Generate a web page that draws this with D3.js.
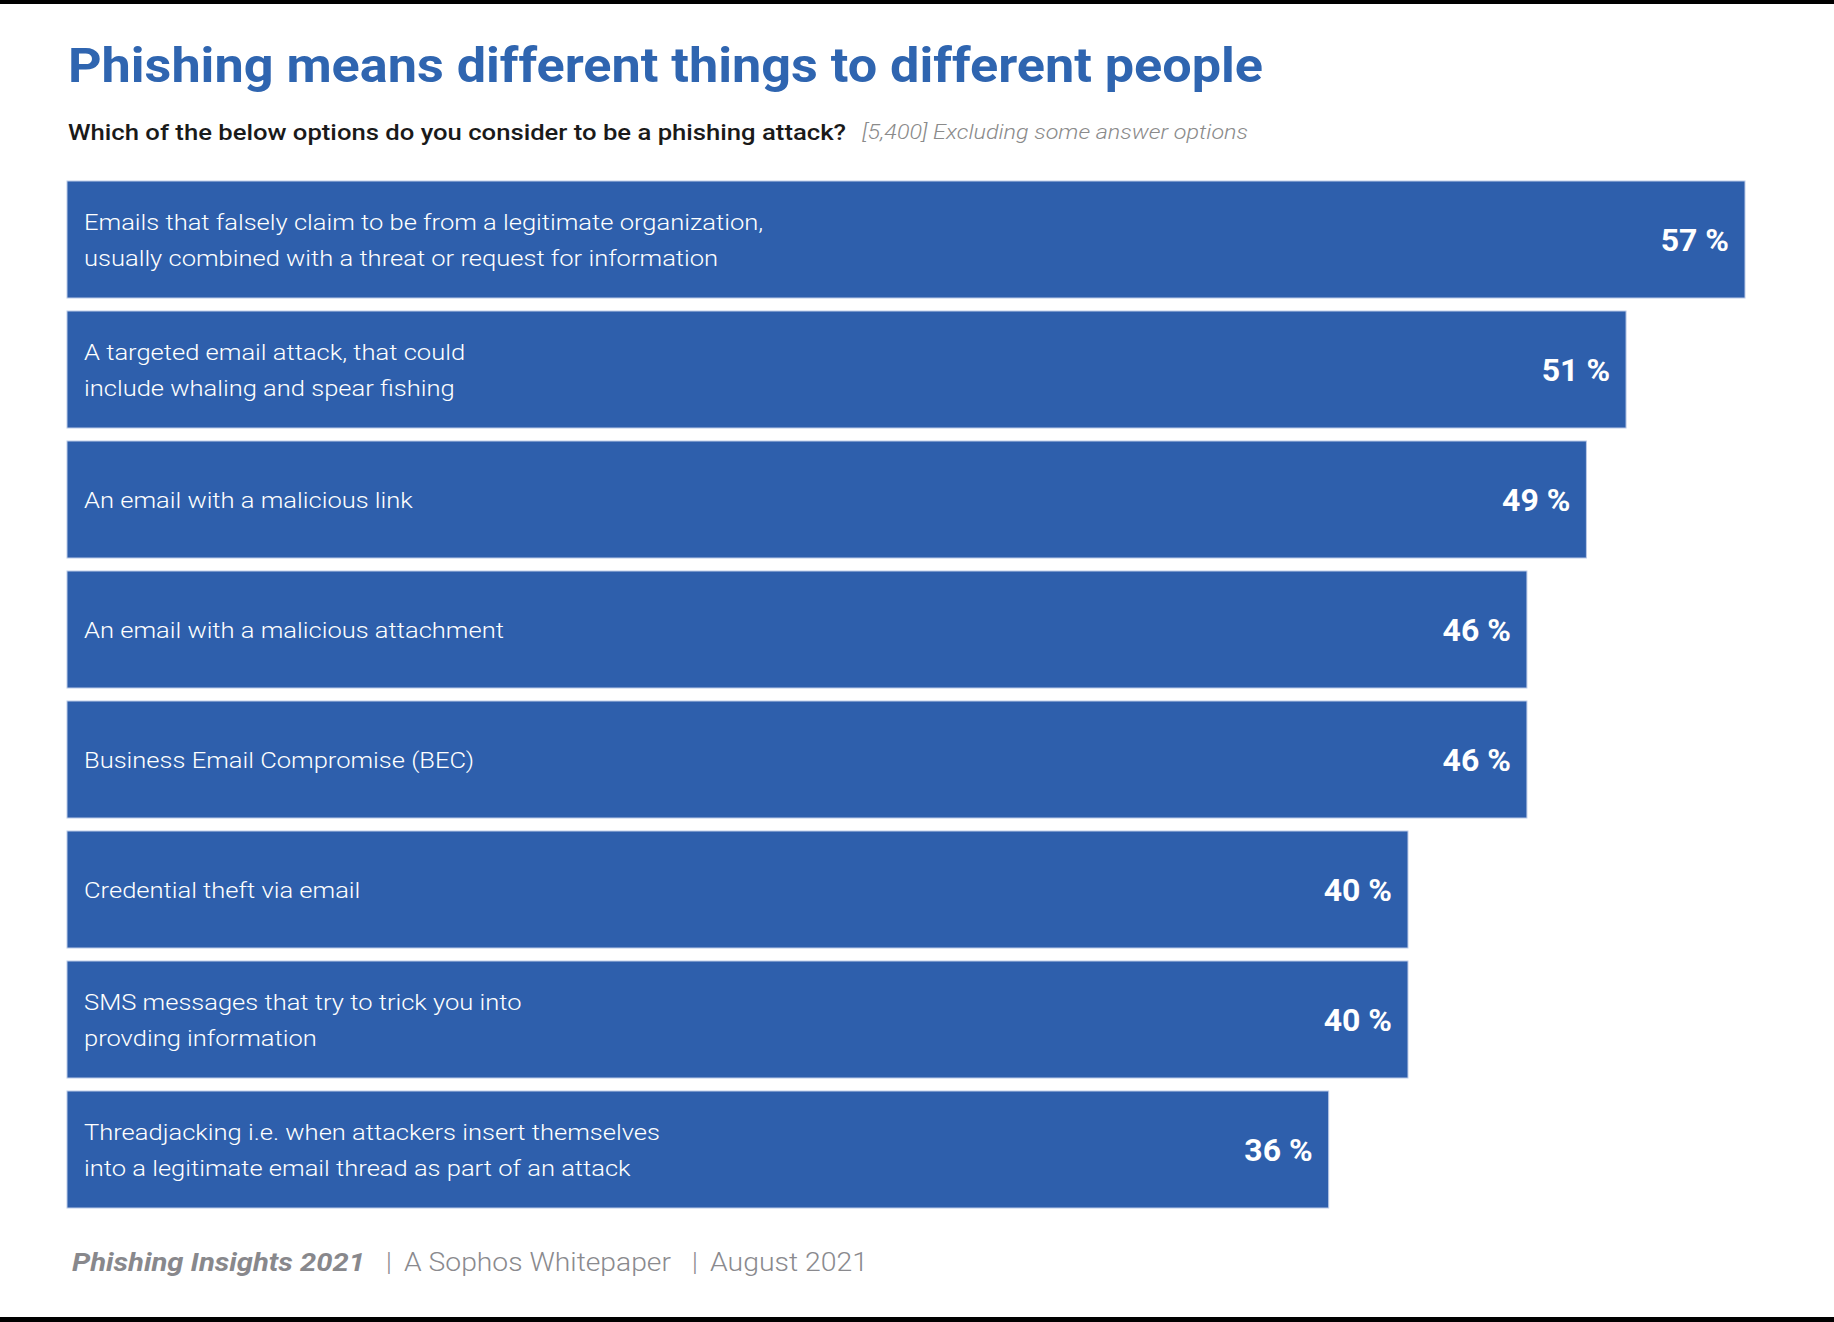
<!DOCTYPE html>
<html>
<head>
<meta charset="utf-8">
<script src="https://cdn.jsdelivr.net/npm/d3@7"></script>
<style>
  body { margin: 0; background: #fff; }
  svg { display: block; font-family: Roboto, 'Noto Sans', sans-serif; }
</style>
</head>
<body>
<svg id="chart" width="1834" height="1322"></svg>
<script>
// answer options, top to bottom (multi-line labels split by \n)
const categories = [
    'Emails that falsely claim to be from a legitimate organization,\nusually combined with a threat or request for information',
    'A targeted email attack, that could\ninclude whaling and spear fishing',
    'An email with a malicious link',
    'An email with a malicious attachment',
    'Business Email Compromise (BEC)',
    'Credential theft via email',
    'SMS messages that try to trick you into\nprovding information',
    'Threadjacking i.e. when attackers insert themselves\ninto a legitimate email thread as part of an attack'
];
const values = [57, 51, 49, 46, 46, 40, 40, 36];

const title = 'Phishing means different things to different people';
const question = 'Which of the below options do you consider to be a phishing attack?';
const note = '[5,400] Excluding some answer options';
const footer = ['Phishing Insights 2021', 'A Sophos Whitepaper', 'August 2021'];

const W = 1834, H = 1322;
const barLeft = 67;
const blue = '#2e5fac';

const svg = d3.select('#chart');

// squeeze / stretch a text node to the width it has in the report
const fit = (sel, w) => sel.attr('textLength', w).attr('lengthAdjust', 'spacingAndGlyphs');
// the report font is wider than Roboto, so stretch bar labels a bit
const widen = (sel, k) => sel.each(function () {
    const len = this.getComputedTextLength();
    d3.select(this).call(fit, len * k);
});

// black frame lines top and bottom
svg.append('rect').attr('x', 0).attr('y', 0).attr('width', W).attr('height', 4).attr('fill', '#000');
svg.append('rect').attr('x', 0).attr('y', 1317).attr('width', W).attr('height', 5).attr('fill', '#000');

// heading
svg.append('text')
    .attr('x', 68).attr('y', 82)
    .attr('font-size', 48).attr('font-weight', 700)
    .attr('fill', '#2f65b0')
    .text(title)
    .call(fit, 1195);

svg.append('text')
    .attr('x', 68).attr('y', 140)
    .attr('font-size', 22).attr('font-weight', 500)
    .attr('fill', '#1a1a1a')
    .text(question)
    .call(fit, 778);

svg.append('text')
    .attr('x', 862).attr('y', 139)
    .attr('font-size', 21).attr('font-style', 'italic').attr('font-weight', 300)
    .attr('fill', '#8a8a8a')
    .text(note)
    .call(fit, 386);

// scales: bars start at the left margin, the value scale runs from an offset zero
const y = d3.scaleBand()
    .domain(d3.range(categories.length))
    .range([181, 1208])
    .paddingInner(0.1)
    .paddingOuter(0);

const x = d3.scaleLinear()
    .domain([0, d3.max(values)])
    .range([615, 1745]);

const rows = svg.append('g')
    .selectAll('g')
    .data(values)
    .join('g')
    .attr('transform', (d, i) => `translate(0, ${y(i)})`);

rows.append('rect')
    .attr('x', barLeft)
    .attr('y', 0)
    .attr('width', d => x(d) - barLeft)
    .attr('height', y.bandwidth())
    .attr('fill', blue)
    .attr('stroke', '#bccbe8')
    .attr('stroke-width', 1);

const lineH = 36;
rows.each(function (d, i) {
    const g = d3.select(this);
    const lines = categories[i].split('\n');
    const cy = y.bandwidth() / 2;
    const first = cy + 8 - (lines.length - 1) * lineH / 2;

    lines.forEach((l, j) => {
        g.append('text')
            .attr('x', barLeft + 17)
            .attr('y', first + j * lineH)
            .attr('font-size', 22)
            .attr('font-weight', 300)
            .attr('fill', '#fff')
            .text(l)
            .call(widen, 1.16);
    });

    g.append('text')
        .attr('x', x(d) - 16)
        .attr('y', cy + 11.5)
        .attr('text-anchor', 'end')
        .attr('font-size', 32)
        .attr('font-weight', 700)
        .attr('fill', '#fff')
        .text(`${d} %`);
});

// footer
const fy = 1271;
svg.append('text')
    .attr('x', 72).attr('y', fy)
    .attr('font-size', 26).attr('font-weight', 700).attr('font-style', 'italic')
    .attr('fill', '#88888c')
    .text(footer[0])
    .call(fit, 293);

svg.append('text')
    .attr('x', 386).attr('y', fy)
    .attr('font-size', 26).attr('font-weight', 300)
    .attr('fill', '#8a8a8e')
    .text('|');

svg.append('text')
    .attr('x', 404).attr('y', fy)
    .attr('font-size', 26).attr('font-weight', 300)
    .attr('fill', '#8a8a8e')
    .text(footer[1])
    .call(fit, 267);

svg.append('text')
    .attr('x', 692).attr('y', fy)
    .attr('font-size', 26).attr('font-weight', 300)
    .attr('fill', '#8a8a8e')
    .text('|');

svg.append('text')
    .attr('x', 710).attr('y', fy)
    .attr('font-size', 26).attr('font-weight', 300)
    .attr('fill', '#8a8a8e')
    .text(footer[2])
    .call(fit, 158);
</script>
</body>
</html>
